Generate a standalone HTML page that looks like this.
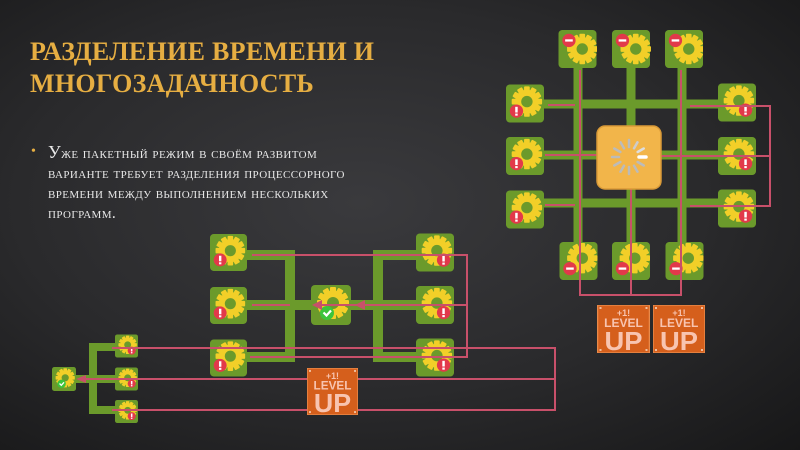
<!DOCTYPE html>
<html><head><meta charset="utf-8"><style>
html,body{margin:0;padding:0;width:800px;height:450px;overflow:hidden}
body{background:radial-gradient(ellipse at 45% 45%,#3a3a3d 0%,#2a2a2c 55%,#171718 100%);position:relative;font-family:"Liberation Serif",serif}
h1{position:absolute;left:30px;top:36px;margin:0;font-size:26px;line-height:32px;color:#e6ae42;font-weight:bold;letter-spacing:0.3px}
.b{position:absolute;left:33px;top:142px;width:360px;color:#e8e8e8;font-size:15.5px;line-height:20px;font-variant:small-caps;white-space:nowrap;letter-spacing:0.4px}
.dot{position:absolute;left:-2px;top:0;color:#e6ae42;font-size:14px}
.big{font-size:18px}
svg{position:absolute;left:0;top:0}
</style></head><body>
<h1>РАЗДЕЛЕНИЕ ВРЕМЕНИ И<br>МНОГОЗАДАЧНОСТЬ</h1>
<div class="b"><span class="dot">•</span><div style="margin-left:15px"><span class="big">У</span>же пакетный режим в своём развитом<br>варианте требует разделения процессорного<br>времени между выполнением нескольких<br>программ.</div></div>
<svg width="800" height="450" viewBox="0 0 800 450">
<defs>
<g id="gear">
<g fill="#f2cf28">
<rect x="19" y="2" width="6" height="32" rx="1"/>
<rect x="19" y="2" width="6" height="32" rx="1" transform="rotate(30 22 18)"/>
<rect x="19" y="2" width="6" height="32" rx="1" transform="rotate(60 22 18)"/>
<rect x="19" y="2" width="6" height="32" rx="1" transform="rotate(90 22 18)"/>
<rect x="19" y="2" width="6" height="32" rx="1" transform="rotate(120 22 18)"/>
<rect x="19" y="2" width="6" height="32" rx="1" transform="rotate(150 22 18)"/>
<circle cx="22" cy="18" r="12.5"/>
</g>
<circle cx="22" cy="18" r="6" fill="#6b9a2b"/>
</g>
<g id="ex"><circle r="7" fill="#e2394a"/><rect x="-1.3" y="-4.5" width="2.6" height="6" fill="#fff"/><rect x="-1.3" y="2.6" width="2.6" height="2.2" fill="#fff"/></g>
<g id="mi"><circle r="7" fill="#e2394a"/><rect x="-4" y="-1.2" width="8" height="2.4" fill="#fff"/></g>
<g id="ok"><circle r="7" fill="#3cc43c"/><path d="M-3.5 -0.5 L-0.5 2.5 L4 -2.5" stroke="#fff" stroke-width="2.2" fill="none"/></g>
<symbol id="tEL" viewBox="0 0 40 40"><rect width="40" height="40" rx="4" fill="#6b9a2b"/><use href="#gear"/><use href="#ex" x="11" y="28"/></symbol>
<symbol id="tER" viewBox="0 0 40 40"><rect width="40" height="40" rx="4" fill="#6b9a2b"/><use href="#gear"/><use href="#ex" x="29" y="28"/></symbol>
<symbol id="tMT" viewBox="0 0 40 40"><rect width="40" height="40" rx="4" fill="#6b9a2b"/><use href="#gear" x="3" y="2"/><use href="#mi" x="11" y="11"/></symbol>
<symbol id="tMB" viewBox="0 0 40 40"><rect width="40" height="40" rx="4" fill="#6b9a2b"/><use href="#gear" x="2" y="-1"/><use href="#mi" x="11" y="28"/></symbol>
<symbol id="tOK" viewBox="0 0 40 40"><rect width="40" height="40" rx="4" fill="#6b9a2b"/><use href="#gear"/><use href="#ok" x="16" y="28"/></symbol>
<symbol id="lu" viewBox="0 0 52 48"><rect width="52" height="48" fill="#d55f1c" stroke="#e98a4a" stroke-width="1.5"/>
<g fill="#f8c4b0" font-family="Liberation Sans,sans-serif" font-weight="bold" text-anchor="middle"><text x="26" y="11" font-size="9">+1!</text><text x="26" y="22" font-size="12">LEVEL</text><text x="26" y="45" font-size="26" textLength="38" lengthAdjust="spacingAndGlyphs">UP</text></g>
<g fill="#f0c0a0"><rect x="2" y="2" width="2" height="2"/><rect x="48" y="2" width="2" height="2"/><rect x="2" y="44" width="2" height="2"/><rect x="48" y="44" width="2" height="2"/></g></symbol>
</defs>

<g stroke="#6b9a2b" stroke-width="9" fill="none">
<line x1="578" y1="50" x2="578" y2="262"/><line x1="631" y1="50" x2="631" y2="262"/><line x1="682" y1="50" x2="682" y2="262"/>
<line x1="525" y1="104" x2="737" y2="104"/><line x1="525" y1="155" x2="737" y2="155"/><line x1="525" y1="203" x2="737" y2="203"/>
</g>
<use href="#tMT" x="558" y="30" width="39" height="38"/>
<use href="#tMT" x="609" y="30" width="44" height="38"/>
<use href="#tMT" x="665" y="30" width="38" height="38"/>
<use href="#tEL" x="506" y="84" width="38" height="39"/>
<use href="#tEL" x="506" y="134" width="38" height="44"/>
<use href="#tEL" x="506" y="190" width="38" height="39"/>
<use href="#tER" x="718" y="83" width="38" height="39"/>
<use href="#tER" x="718" y="134" width="38" height="44"/>
<use href="#tER" x="718" y="189" width="38" height="39"/>
<use href="#tMB" x="559" y="242" width="39" height="38"/>
<use href="#tMB" x="609" y="242" width="44" height="38"/>
<use href="#tMB" x="665" y="242" width="39" height="38"/>
<g stroke="#c8506a" stroke-width="2" fill="none">
<polyline points="580,70 580,295 681,295 681,70"/><line x1="631" y1="189" x2="631" y2="295"/>
<polyline points="690,106 770,106 770,206 690,206"/><line x1="660" y1="156" x2="770" y2="156"/>
<line x1="548" y1="105" x2="575" y2="105"/><line x1="545" y1="155" x2="597" y2="155"/><line x1="545" y1="205" x2="575" y2="205"/>
</g>
<rect x="597" y="126" width="64" height="63" rx="8" fill="#f2b54a" stroke="#d99a38" stroke-width="1.5"/>
<g stroke-width="2.5" stroke-linecap="round" transform="translate(629,157)">
<line x1="0" y1="-10" x2="0" y2="-17" stroke="#bbb"/>
<line x1="0" y1="-10" x2="0" y2="-17" stroke="#ccc" transform="rotate(30)"/>
<line x1="0" y1="-10" x2="0" y2="-17" stroke="#ddd" transform="rotate(60)"/>
<line x1="0" y1="-10" x2="0" y2="-17" stroke="#fff" transform="rotate(90)" stroke-width="3.5"/>
<line x1="0" y1="-10" x2="0" y2="-17" stroke="#bbb" transform="rotate(120)"/>
<line x1="0" y1="-10" x2="0" y2="-17" stroke="#bbb" transform="rotate(150)"/>
<line x1="0" y1="-10" x2="0" y2="-17" stroke="#bbb" transform="rotate(180)"/>
<line x1="0" y1="-10" x2="0" y2="-17" stroke="#bbb" transform="rotate(210)"/>
<line x1="0" y1="-10" x2="0" y2="-17" stroke="#bbb" transform="rotate(240)"/>
<line x1="0" y1="-10" x2="0" y2="-17" stroke="#bbb" transform="rotate(270)"/>
<line x1="0" y1="-10" x2="0" y2="-17" stroke="#bbb" transform="rotate(300)"/>
<line x1="0" y1="-10" x2="0" y2="-17" stroke="#bbb" transform="rotate(330)"/>
</g>
<use href="#lu" x="597" y="305" width="53" height="48"/>
<use href="#lu" x="653" y="305" width="52" height="48"/>

<g stroke="#6b9a2b" stroke-width="10" fill="none">
<polyline points="245,255 290,255 290,357 245,357"/><line x1="290" y1="305" x2="320" y2="305"/><line x1="245" y1="305" x2="290" y2="305"/>
<polyline points="420,255 378,255 378,357 420,357"/><line x1="350" y1="305" x2="420" y2="305"/>
</g>
<use href="#tEL" x="210" y="233" width="37" height="39"/>
<use href="#tEL" x="210" y="284" width="37" height="43"/>
<use href="#tEL" x="210" y="339" width="37" height="38"/>
<use href="#tOK" x="311" y="277" width="40" height="56"/>
<use href="#tER" x="416" y="233" width="38" height="39"/>
<use href="#tER" x="416" y="283" width="38" height="44"/>
<use href="#tER" x="416" y="338" width="38" height="39"/>
<g stroke="#c8506a" stroke-width="2" fill="none">
<polyline points="252,255 467,255 467,357 250,357"/><line x1="252" y1="305" x2="290" y2="305"/>
<line x1="467" y1="305" x2="318" y2="305"/>
</g>
<path d="M312 305 L322 300 L322 310Z M355 305 L365 300 L365 310Z" fill="#c8506a"/>

<g stroke="#6b9a2b" stroke-width="8" fill="none">
<polyline points="118,347 93,347 93,410 118,410"/><line x1="72" y1="379" x2="118" y2="379"/>
</g>
<use href="#tER" x="115" y="334" width="23" height="24"/>
<use href="#tER" x="115" y="365" width="23" height="28"/>
<use href="#tER" x="115" y="400" width="23" height="23"/>
<use href="#tOK" x="52" y="362" width="24" height="34"/>
<g stroke="#c8506a" stroke-width="2" fill="none">
<polyline points="112,348 555,348 555,410 112,410"/><line x1="555" y1="379" x2="80" y2="379"/>
</g>
<path d="M76 379 L86 375 L86 383Z" fill="#c8506a"/>
<use href="#lu" x="307" y="368" width="51" height="47"/>
</svg>
</body></html>
